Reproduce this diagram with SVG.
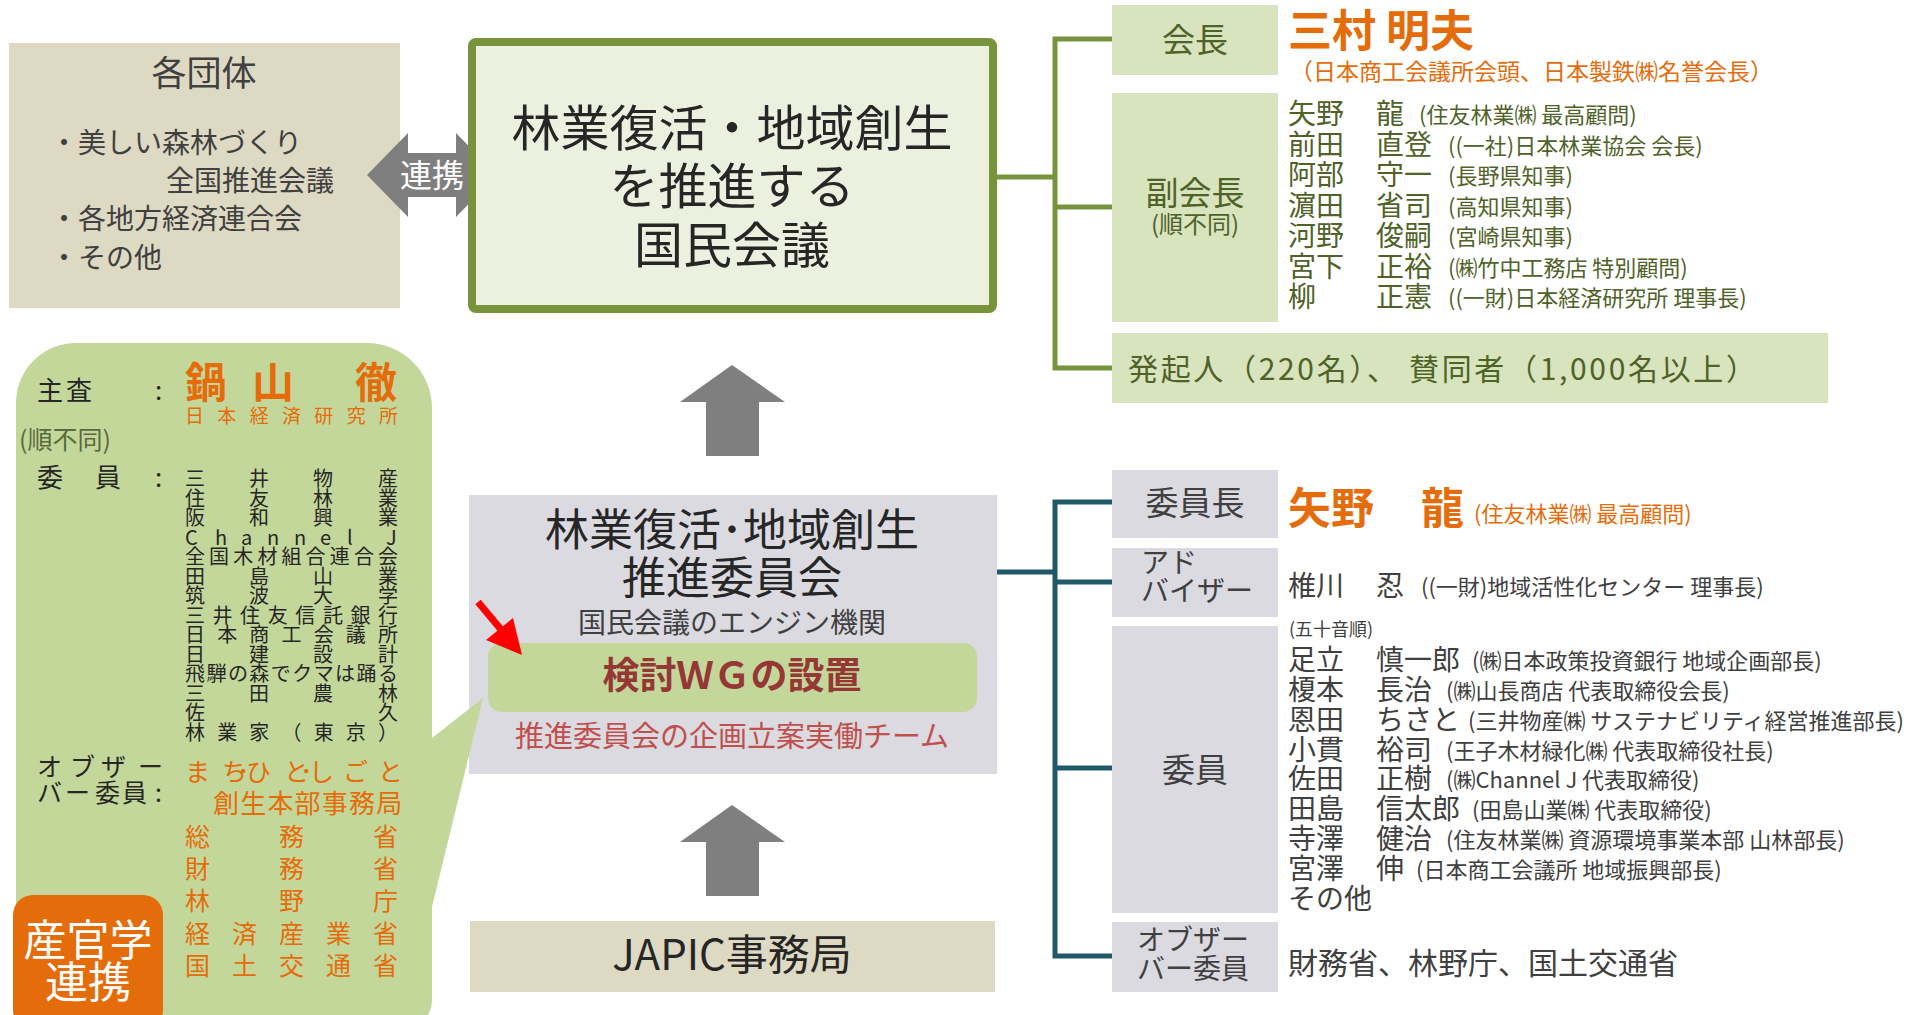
<svg xmlns="http://www.w3.org/2000/svg" width="1919" height="1015" viewBox="0 0 1919 1015">
<style>
text{font-family:"Noto Sans CJK JP","Noto Sans",sans-serif}
.dk{fill:#262626}.g4{fill:#404040}.ol{fill:#4F6228}.or{fill:#E46C0A}.wh{fill:#FFFFFF}
.mid{text-anchor:middle}
.gl{fill:#D7E4BD}.gy{fill:#DADAE0}.tan{fill:#DDD9C3}.lg{fill:#C4D79B}
.arr{fill:#7F7F7F}
.cg{fill:none;stroke:#77933C;stroke-width:5}
.ct{fill:none;stroke:#215968;stroke-width:5}
</style>
<rect width="1919" height="1015" fill="#FFFFFF"/>

<g id="connectors">
<path class="cg" d="M997,177 H1055 M1112,39 H1055 V368 H1112 M1055,207 H1112"/>
<path class="ct" d="M997,572 H1055 M1112,502 H1055 V956 H1112 M1055,582 H1112 M1055,768 H1112"/>
</g>

<g id="kakudantai">
<rect class="tan" x="9" y="43" width="391" height="265"/>
<text class="g4 mid" x="204" y="86" font-size="35">各団体</text>
<text class="g4" x="50" y="153" font-size="28">・美しい森林づくり</text>
<text class="g4" x="166" y="191" font-size="28">全国推進会議</text>
<text class="g4" x="50" y="229" font-size="28">・各地方経済連合会</text>
<text class="g4" x="50" y="268" font-size="28">・その他</text>
</g>

<g id="renkei">
<polygon class="arr" points="367,175 408,133 408,153 456,153 456,133 497,175 456,217 456,197 408,197 408,217"/>
<text class="wh mid" x="432" y="187" font-size="32">連携</text>
</g>

<g id="kokumin-kaigi">
<rect x="472" y="42" width="521" height="267" rx="4" fill="#EBF1DE" stroke="#77933C" stroke-width="8"/>
<text class="dk mid" x="732" y="146" font-size="49">林業復活・地域創生</text>
<text class="dk mid" x="732" y="204" font-size="49">を推進する</text>
<text class="dk mid" x="732" y="263" font-size="49">国民会議</text>
</g>

<g id="up-arrow-1">
<polygon class="arr" points="732,365 785,402 759,402 759,456 706,456 706,402 680,402"/>
</g>

<g id="suishin-iinkai">
<rect class="gy" x="469" y="495" width="528" height="279"/>
<text class="dk mid" x="732" y="546" font-size="44">林業復活･地域創生</text>
<text class="dk mid" x="732" y="594" font-size="44">推進委員会</text>
<text class="g4 mid" x="732" y="633" font-size="28">国民会議のエンジン機関</text>
<rect class="lg" x="488" y="643" width="489" height="69" rx="14"/>
<text class="mid" x="732" y="689" font-size="37" font-weight="bold" fill="#953735">検討ＷＧの設置</text>
<text class="mid" x="732" y="747" font-size="29" fill="#C0504D">推進委員会の企画立案実働チーム</text>
</g>

<g id="red-arrow">
<line x1="478" y1="602" x2="514" y2="645" stroke="#FF0000" stroke-width="7"/>
<polygon points="522,655 486,640 513,618" fill="#FF0000"/>
</g>

<g id="up-arrow-2">
<polygon class="arr" points="732,805 785,842 759,842 759,896 706,896 706,842 680,842"/>
</g>

<g id="japic">
<rect class="tan" x="470" y="921" width="525" height="71"/>
<text class="dk mid" x="732" y="970" font-size="42">JAPIC事務局</text>
</g>

<g id="sankangaku-callout">
<path class="lg" d="M16,403 A60,60 0 0 1 76,343 L367,343 A65,65 0 0 1 432,408 L432,738 L483,698 L432,907 L432,1000 A30,30 0 0 1 402,1030 L46,1030 A30,30 0 0 1 16,1000 Z"/>
<text class="dk" x="37 66" y="400" font-size="26">主査</text>
<text class="dk" x="155" y="400" font-size="26">:</text>
<text class="or" x="185 252 355" y="398" font-size="42" font-weight="bold">鍋山徹</text>
<text class="or" x="185 217.3 249.7 282 314.3 346.7 379" y="423" font-size="19">日本経済研究所</text>
<text x="19" y="449" font-size="25" fill="#5A6B3B">(順不同)</text>
<text class="dk" x="37 95" y="487" font-size="26">委員</text>
<text class="dk" x="155" y="487" font-size="26">:</text>
<g class="dk" font-size="20">
<text x="185 249 313 378" y="486">三井物産</text>
<text x="185 249 313 378" y="505.5">住友林業</text>
<text x="185 249 313 378" y="525">阪和興業</text>
<text x="185 215 241 267 294 320 347 386" y="544.5">ChannelJ</text>
<text x="185 209.1 233.3 257.4 281.5 305.6 329.8 353.9 378" y="564">全国木材組合連合会</text>
<text x="185 249 313 378" y="583.5">田島山業</text>
<text x="185 249 313 378" y="603">筑波大学</text>
<text x="185 212.6 240.1 267.7 295.3 322.9 350.4 378" y="622.5">三井住友信託銀行</text>
<text x="185 217.2 249.3 281.5 313.7 345.8 378" y="642">日本商工会議所</text>
<text x="185 249 313 378" y="661.5">日建設計</text>
<text x="185 206.4 227.9 249.3 270.8 292.2 313.7 335.1 356.6 378" y="681">飛騨の森でクマは踊る</text>
<text x="185 249 313 378" y="700.5">三田農林</text>
<text x="185 378" y="720">佐久</text>
<text x="185 217.2 249.3 281.5 313.7 345.8 378" y="739.5">林業家（東京）</text>
</g>
<text class="dk" x="37 70 101 138" y="776" font-size="25">オブザー</text>
<text class="dk" x="37 65 95 122 155" y="802" font-size="25">バー委員:</text>
<g class="or" font-size="25">
<text x="185 222 237 246 284 300 309 343 378" y="781">まち･ひと･しごと</text>
<text x="213" y="813" font-size="26" letter-spacing="1.2">創生本部事務局</text>
<text x="185 279 373" y="846">総務省</text>
<text x="185 279 373" y="878">財務省</text>
<text x="185 279 373" y="910">林野庁</text>
<text x="185 232 279 326 373" y="943">経済産業省</text>
<text x="185 232 279 326 373" y="975">国土交通省</text>
</g>
<rect x="13" y="895" width="150" height="135" rx="20" fill="#E46C0A"/>
<text class="wh mid" x="88" y="956" font-size="43">産官学</text>
<text class="wh mid" x="88" y="998" font-size="43">連携</text>
</g>

<g id="kaicho">
<rect class="gl" x="1112" y="5" width="166" height="70"/>
<text class="ol mid" x="1195" y="52" font-size="33">会長</text>
<text class="or" x="1288" y="47" font-size="44" font-weight="bold">三村 明夫</text>
<text class="or" x="1290" y="80" font-size="23">（日本商工会議所会頭、日本製鉄㈱名誉会長）</text>
</g>

<g id="fukukaicho">
<rect class="gl" x="1112" y="93" width="166" height="229"/>
<text class="ol mid" x="1195" y="205" font-size="33">副会長</text>
<text class="ol mid" x="1195" y="233" font-size="24">(順不同)</text>
<g class="ol" font-size="28">
<text x="1288" y="124">矢野</text><text x="1376" y="124">龍</text>
<text x="1288" y="154.5">前田</text><text x="1376" y="154.5">直登</text>
<text x="1288" y="185">阿部</text><text x="1376" y="185">守一</text>
<text x="1288" y="215.5">濵田</text><text x="1376" y="215.5">省司</text>
<text x="1288" y="246">河野</text><text x="1376" y="246">俊嗣</text>
<text x="1288" y="276.5">宮下</text><text x="1376" y="276.5">正裕</text>
<text x="1288" y="307">柳</text><text x="1376" y="307">正憲</text>
</g>
<g class="ol" font-size="22">
<text x="1419" y="123">(住友林業㈱ 最高顧問)</text>
<text x="1448" y="153.5">((一社)日本林業協会 会長)</text>
<text x="1448" y="184">(長野県知事)</text>
<text x="1448" y="214.5">(高知県知事)</text>
<text x="1448" y="245">(宮崎県知事)</text>
<text x="1448" y="275.5">(㈱竹中工務店 特別顧問)</text>
<text x="1448" y="306">((一財)日本経済研究所 理事長)</text>
</g>
</g>

<g id="hokinin">
<rect class="gl" x="1112" y="333" width="716" height="70"/>
<text class="ol" x="1128" y="380" font-size="30" textLength="628" lengthAdjust="spacing">発起人（220名）、 賛同者（1,000名以上）</text>
</g>

<g id="iincho">
<rect class="gy" x="1112" y="470" width="166" height="68"/>
<text class="g4 mid" x="1195" y="515" font-size="33">委員長</text>
<text class="or" x="1288" y="524" font-size="43" font-weight="bold">矢野</text>
<text class="or" x="1421" y="524" font-size="43" font-weight="bold">龍</text>
<text class="or" x="1474" y="522" font-size="22">(住友林業㈱ 最高顧問)</text>
</g>

<g id="adviser">
<rect class="gy" x="1112" y="548" width="166" height="69"/>
<text class="g4" x="1141" y="573" font-size="28">アド</text>
<text class="g4" x="1141" y="601" font-size="28">バイザー</text>
<text class="g4" x="1288" y="596" font-size="28">椎川</text>
<text class="g4" x="1376" y="596" font-size="28">忍</text>
<text class="g4" x="1421" y="595" font-size="22">((一財)地域活性化センター 理事長)</text>
</g>

<g id="iin">
<rect class="gy" x="1112" y="626" width="166" height="287"/>
<text class="g4 mid" x="1195" y="782" font-size="33">委員</text>
<text class="g4" x="1289" y="636" font-size="18">(五十音順)</text>
<g class="g4" font-size="28">
<text x="1288" y="670">足立</text><text x="1376" y="670">慎一郎</text>
<text x="1288" y="700">榎本</text><text x="1376" y="700">長治</text>
<text x="1288" y="730">恩田</text><text x="1376" y="730">ちさと</text>
<text x="1288" y="760">小貫</text><text x="1376" y="760">裕司</text>
<text x="1288" y="789">佐田</text><text x="1376" y="789">正樹</text>
<text x="1288" y="819">田島</text><text x="1376" y="819">信太郎</text>
<text x="1288" y="849">寺澤</text><text x="1376" y="849">健治</text>
<text x="1288" y="879">宮澤</text><text x="1376" y="879">伸</text>
<text x="1288" y="909">その他</text>
</g>
<g class="g4" font-size="22">
<text x="1472" y="669">(㈱日本政策投資銀行 地域企画部長)</text>
<text x="1446" y="699">(㈱山長商店 代表取締役会長)</text>
<text x="1468" y="729">(三井物産㈱ サステナビリティ経営推進部長)</text>
<text x="1446" y="759">(王子木材緑化㈱ 代表取締役社長)</text>
<text x="1446" y="788">(㈱Channel J 代表取締役)</text>
<text x="1472" y="818">(田島山業㈱ 代表取締役)</text>
<text x="1446" y="848">(住友林業㈱ 資源環境事業本部 山林部長)</text>
<text x="1416" y="878">(日本商工会議所 地域振興部長)</text>
</g>
</g>

<g id="observer">
<rect class="gy" x="1112" y="922" width="166" height="70"/>
<text class="g4" x="1137" y="950" font-size="28">オブザー</text>
<text class="g4" x="1137" y="979" font-size="28">バー委員</text>
<text class="g4" x="1288" y="974" font-size="30">財務省、林野庁、国土交通省</text>
</g>
</svg>
